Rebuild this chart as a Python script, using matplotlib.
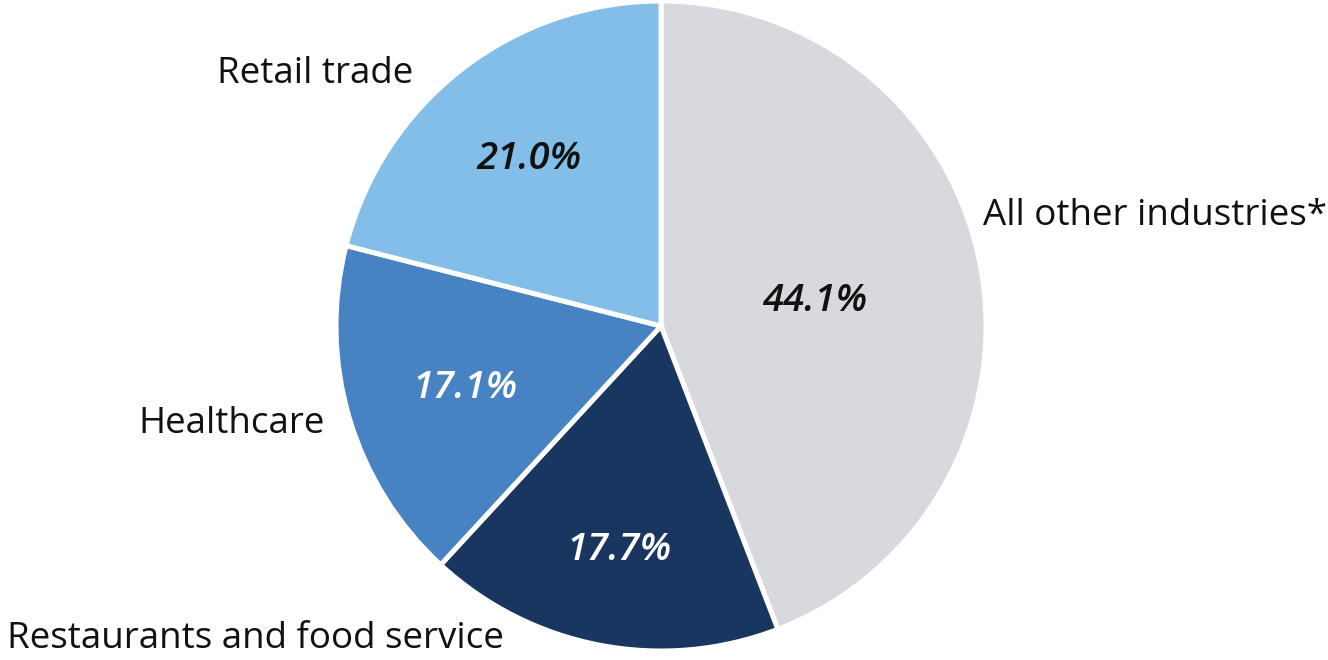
import numpy as np
import matplotlib
matplotlib.use("Agg")
import matplotlib.pyplot as plt

categories = ["All other industries*", "Restaurants and food service", "Healthcare", "Retail trade"]
shares = [44.1, 17.7, 17.1, 21.0]
colors = ["#D8D9DE", "#183660", "#4782C2", "#82BEE8"]
pct_colors = ["#111111", "white", "white", "#111111"]
pct_dist = [0.48, 0.69, 0.63, 0.665]
label_pos = [(1.52, 0.351), (-1.249, -0.951), (-1.32, -0.289), (-1.065, 0.788)]

plt.rcParams['font.family'] = ['Open Sans', 'DejaVu Sans']

fig = plt.figure(figsize=(13.28, 6.6), dpi=100)
cx, cy, r = 661, 326, 325
ax = fig.add_axes([(cx - r) / 1328, (660 - cy - r) / 660, 2 * r / 1328, 2 * r / 660])
wedges, _ = ax.pie(shares, colors=colors, startangle=90, counterclock=False,
                   wedgeprops=dict(edgecolor="white", linewidth=3.6), radius=1)
ax.set_xlim(-1, 1)
ax.set_ylim(-1, 1)
ax.set_aspect("equal")
ax.axis("off")

dy = -0.012
for w, s, c, d in zip(wedges, shares, pct_colors, pct_dist):
    ang = np.deg2rad((w.theta1 + w.theta2) / 2)
    ax.text(d * np.cos(ang), d * np.sin(ang) + dy, f"{s:.1f}%", ha="center", va="center",
            fontsize=27.5, fontstyle="italic", fontweight="semibold", color=c)

for name, (x, y) in zip(categories, label_pos):
    ax.text(x, y + dy, name, ha="center", va="center", fontsize=26.5, color="#111111", clip_on=False)

fig.savefig("out.png", dpi=100)
